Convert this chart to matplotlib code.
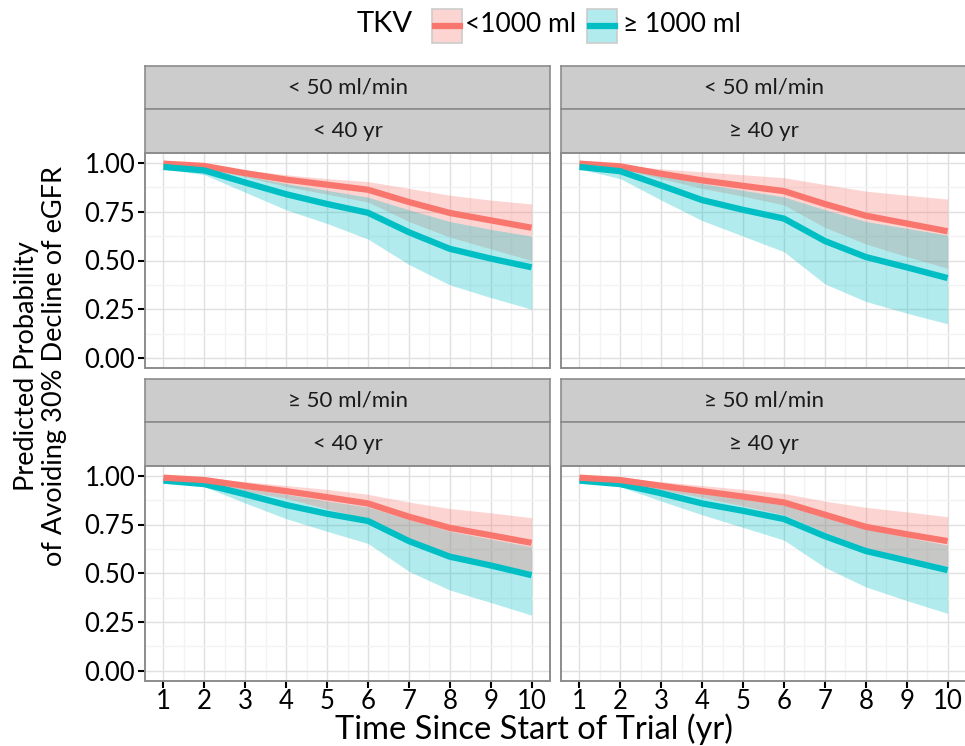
import numpy as np
import matplotlib
matplotlib.use("Agg")
import matplotlib.pyplot as plt
from matplotlib.patches import Rectangle
from matplotlib.lines import Line2D

plt.rcParams['font.family'] = ['Lato', 'DejaVu Sans']

years = [1, 2, 3, 4, 5, 6, 7, 8, 9, 10]

# < 50 ml/min, < 40 yr
tl_red    = [0.997, 0.985, 0.948, 0.915, 0.889, 0.863, 0.800, 0.744, 0.706, 0.668]
tl_red_lo = [0.990, 0.975, 0.930, 0.880, 0.840, 0.800, 0.700, 0.620, 0.560, 0.500]
tl_red_hi = [1.000, 0.992, 0.965, 0.940, 0.920, 0.905, 0.870, 0.835, 0.810, 0.790]
tl_tea    = [0.980, 0.962, 0.900, 0.840, 0.790, 0.745, 0.645, 0.560, 0.510, 0.465]
tl_tea_lo = [0.970, 0.940, 0.850, 0.760, 0.690, 0.610, 0.480, 0.375, 0.310, 0.250]
tl_tea_hi = [0.990, 0.975, 0.935, 0.895, 0.860, 0.825, 0.760, 0.700, 0.660, 0.625]

# < 50 ml/min, >= 40 yr
tr_red    = [0.997, 0.983, 0.945, 0.911, 0.883, 0.856, 0.790, 0.730, 0.690, 0.650]
tr_red_lo = [0.990, 0.970, 0.920, 0.870, 0.830, 0.785, 0.670, 0.585, 0.520, 0.460]
tr_red_hi = [1.000, 0.992, 0.970, 0.955, 0.940, 0.925, 0.890, 0.856, 0.835, 0.815]
tr_tea    = [0.980, 0.958, 0.885, 0.810, 0.760, 0.715, 0.600, 0.518, 0.465, 0.410]
tr_tea_lo = [0.970, 0.920, 0.810, 0.705, 0.625, 0.545, 0.380, 0.290, 0.230, 0.175]
tr_tea_hi = [0.990, 0.975, 0.935, 0.895, 0.860, 0.826, 0.760, 0.700, 0.665, 0.630]

# >= 50 ml/min, < 40 yr
bl_red    = [0.990, 0.978, 0.948, 0.921, 0.890, 0.858, 0.790, 0.733, 0.695, 0.656]
bl_red_lo = [0.980, 0.965, 0.920, 0.885, 0.830, 0.780, 0.670, 0.590, 0.550, 0.510]
bl_red_hi = [1.000, 0.990, 0.970, 0.950, 0.930, 0.905, 0.865, 0.832, 0.810, 0.785]
bl_tea    = [0.975, 0.957, 0.905, 0.850, 0.805, 0.768, 0.665, 0.585, 0.540, 0.490]
bl_tea_lo = [0.970, 0.944, 0.860, 0.780, 0.715, 0.653, 0.510, 0.414, 0.350, 0.285]
bl_tea_hi = [0.985, 0.970, 0.935, 0.905, 0.870, 0.840, 0.775, 0.716, 0.675, 0.636]

# >= 50 ml/min, >= 40 yr
br_red    = [0.990, 0.978, 0.948, 0.921, 0.893, 0.863, 0.800, 0.738, 0.700, 0.665]
br_red_lo = [0.980, 0.965, 0.925, 0.890, 0.845, 0.800, 0.710, 0.630, 0.580, 0.535]
br_red_hi = [1.000, 0.990, 0.970, 0.950, 0.930, 0.909, 0.870, 0.838, 0.815, 0.790]
br_tea    = [0.975, 0.957, 0.910, 0.858, 0.820, 0.778, 0.690, 0.614, 0.565, 0.516]
br_tea_lo = [0.970, 0.944, 0.870, 0.800, 0.735, 0.670, 0.530, 0.430, 0.360, 0.294]
br_tea_hi = [0.985, 0.970, 0.940, 0.910, 0.880, 0.850, 0.785, 0.726, 0.685, 0.644]

egfr_labels = ['< 50 ml/min', '\u2265 50 ml/min']
age_labels = ['< 40 yr', '\u2265 40 yr']
tkv_labels = ['<1000 ml', '\u2265 1000 ml']

RED = '#F8766D'
TEAL = '#00BFC4'
W, H = 965, 746

fig = plt.figure(figsize=(W / 100, H / 100), dpi=100)


def rect(x0, y0, x1, y1):
    return [x0 / W, 1 - y1 / H, (x1 - x0) / W, (y1 - y0) / H]


cols = [(145, 550), (561, 966)]
rows = [(65.7, 109, 153.3, 367.7), (379, 422.3, 466, 680.5)]

panels = [
    (0, 0, tl_red, tl_red_lo, tl_red_hi, tl_tea, tl_tea_lo, tl_tea_hi),
    (0, 1, tr_red, tr_red_lo, tr_red_hi, tr_tea, tr_tea_lo, tr_tea_hi),
    (1, 0, bl_red, bl_red_lo, bl_red_hi, bl_tea, bl_tea_lo, bl_tea_hi),
    (1, 1, br_red, br_red_lo, br_red_hi, br_tea, br_tea_lo, br_tea_hi),
]

for r, c, red, red_lo, red_hi, tea, tea_lo, tea_hi in panels:
    x0, x1 = cols[c]
    s0, s1, p0, p1 = rows[r]

    # strips
    for (a, b), lab in [((s0, s1), egfr_labels[r]), ((s1, p0), age_labels[c])]:
        sax = fig.add_axes(rect(x0, a, x1, b))
        sax.set_facecolor('#cccccc')
        sax.set_xticks([])
        sax.set_yticks([])
        for sp in sax.spines.values():
            sp.set_color('#8c8c8c')
            sp.set_linewidth(1.2)
        sax.text(0.5, 0.5, lab, ha='center', va='center', fontsize=16,
                 color='#1a1a1a', transform=sax.transAxes)

    ax = fig.add_axes(rect(x0, p0, x1, p1))
    ax.set_xlim(0.55, 10.45)
    ax.set_ylim(-0.05, 1.05)
    ax.set_xticks(years)
    ax.set_xticks(np.arange(1.5, 10, 1), minor=True)
    ax.set_yticks([0, 0.25, 0.5, 0.75, 1.0])
    ax.set_yticks([0.125, 0.375, 0.625, 0.875], minor=True)
    ax.grid(which='major', color='#e0e0e0', linewidth=1.0)
    ax.grid(which='minor', color='#f3f3f3', linewidth=1.0)
    ax.set_axisbelow(True)
    for sp in ax.spines.values():
        sp.set_color('#8c8c8c')
        sp.set_linewidth(1.4)
    ax.tick_params(which='minor', length=0)
    ax.tick_params(which='major', length=5, width=1.5, color='black',
                   labelsize=18.5, pad=2)
    if c == 0:
        ax.set_yticklabels(['0.00', '0.25', '0.50', '0.75', '1.00'])
    else:
        ax.tick_params(axis='y', length=0, labelleft=False)
    if r == 1:
        ax.set_xticklabels([str(v) for v in years])
        ax.tick_params(axis='x', pad=1)
    else:
        ax.tick_params(axis='x', length=0, labelbottom=False)

    if r == 0:
        ax.fill_between(years, red_lo, red_hi, color=RED, alpha=0.3, linewidth=0)
        ax.fill_between(years, tea_lo, tea_hi, color=TEAL, alpha=0.3, linewidth=0)
        ax.plot(years, red, color=RED, linewidth=4.5, solid_capstyle='butt')
        ax.plot(years, tea, color=TEAL, linewidth=4.5, solid_capstyle='butt')
    else:
        ax.fill_between(years, tea_lo, tea_hi, color=TEAL, alpha=0.3, linewidth=0)
        ax.fill_between(years, red_lo, red_hi, color=RED, alpha=0.3, linewidth=0)
        ax.plot(years, tea, color=TEAL, linewidth=4.5, solid_capstyle='butt')
        ax.plot(years, red, color=RED, linewidth=4.5, solid_capstyle='butt')

# axis titles
fig.text(534 / W, 1 - 739 / H, 'Time Since Start of Trial (yr)',
         ha='center', va='baseline', fontsize=23.5)
fig.text(41 / W, 1 - 366 / H,
         'Predicted Probability\nof Avoiding 30% Decline of eGFR',
         ha='center', va='center', rotation=90, fontsize=19.5,
         multialignment='center', linespacing=1.15)

# legend on top
fig.text(385 / W, 1 - 24 / H, 'TKV', ha='center', va='center', fontsize=21)
for (bx, tx), col, lab in zip([(432, 465), (587, 623)], [RED, TEAL], tkv_labels):
    fig.patches.append(Rectangle((bx / W, 1 - 42.7 / H), 30 / W, 33.4 / H,
                                 transform=fig.transFigure, facecolor=col,
                                 alpha=0.3, edgecolor='none'))
    fig.patches.append(Rectangle((bx / W, 1 - 42.7 / H), 30 / W, 33.4 / H,
                                 transform=fig.transFigure, facecolor='none',
                                 edgecolor='#cccccc', linewidth=1.2))
    fig.lines.append(Line2D([(bx + 2.5) / W, (bx + 27.5) / W],
                            [1 - 26 / H, 1 - 26 / H], transform=fig.transFigure,
                            color=col, linewidth=4.5))
    fig.text(tx / W, 1 - 25 / H, lab, ha='left', va='center', fontsize=19)

fig.savefig('out.png', dpi=100)
